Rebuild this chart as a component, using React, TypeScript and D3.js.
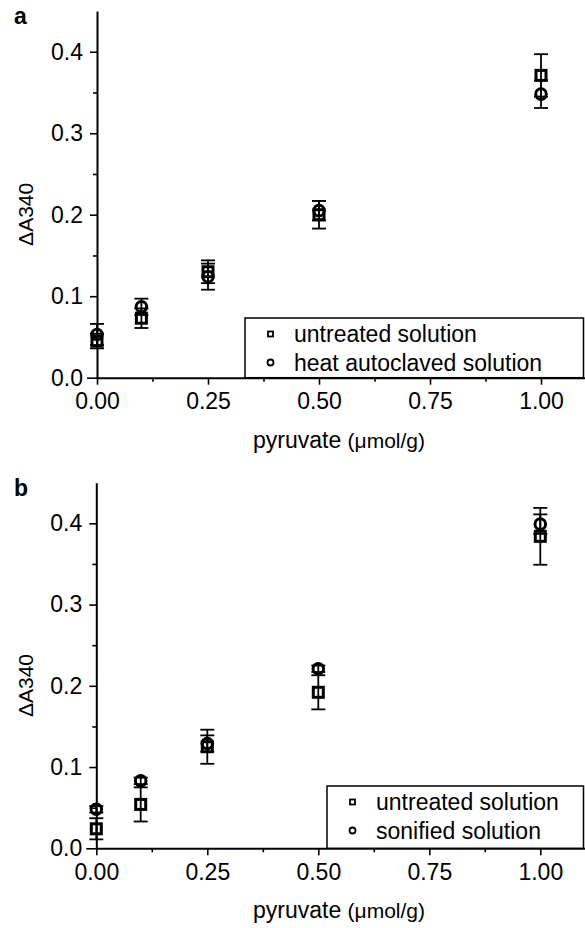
import React, { useEffect, useRef } from 'react';
import * as d3 from 'd3';

// x values (pyruvate, µmol/g)
const pyruvate = [0, 0.1, 0.25, 0.5, 1.0];

// panel a
const aUntreated = [0.045, 0.073, 0.130, 0.200, 0.371];
const aUntreatedErr = [0.009, 0.012, 0.014, 0.017, 0.026];
const aHeat = [0.053, 0.087, 0.124, 0.205, 0.348];
const aHeatErr = [0.013, 0.010, 0.016, 0.012, 0.017];

// panel b
const bUntreated = [0.024, 0.054, 0.125, 0.192, 0.384];
const bUntreatedErr = [0.013, 0.021, 0.021, 0.021, 0.035];
const bSonified = [0.048, 0.083, 0.129, 0.221, 0.399];
const bSonifiedErr = [0.004, 0.004, 0.010, 0.004, 0.012];

const xTicks = [0, 0.25, 0.5, 0.75, 1.0];
const xMinor = [0.125, 0.375, 0.625, 0.875];
const yTicks = [0, 0.1, 0.2, 0.3, 0.4];
const yMinor = [0.05, 0.15, 0.25, 0.35];

const panels = [
  { tag: 'a', top: 11, bottom: 377.7, left: 97, legendTop: 318, legendLeft: 245,
    series: [
      { name: 'untreated solution', shape: 'square', values: aUntreated, err: aUntreatedErr },
      { name: 'heat autoclaved solution', shape: 'circle', values: aHeat, err: aHeatErr },
    ] },
  { tag: 'b', top: 482.7, bottom: 848.3, left: 96.3, legendTop: 786, legendLeft: 327,
    series: [
      { name: 'untreated solution', shape: 'square', values: bUntreated, err: bUntreatedErr },
      { name: 'sonified solution', shape: 'circle', values: bSonified, err: bSonifiedErr },
    ] },
];

const FONT = '"Liberation Sans", Arial, Helvetica, sans-serif';

function App() {
  const ref = useRef<SVGSVGElement>(null);

  useEffect(() => {
    const svg = d3.select(ref.current);
    svg.selectAll('*').remove();

    panels.forEach((p) => {
      const g = svg.append('g');
      // 1.0 unit ~ 444px, axis runs to 1.1
      const x = d3.scaleLinear().domain([0, 1.1]).range([p.left, p.left + 444 * 1.1]);
      const y = d3.scaleLinear().domain([0, 0.45]).range([p.bottom, p.top]);

      // panel tag
      g.append('text').attr('x', 14).attr('y', p.top + 13)
        .attr('font-family', FONT).attr('font-size', 23).attr('font-weight', 'bold')
        .text(p.tag);

      // Y axis
      const yAxis = g.append('g')
        .attr('transform', `translate(${p.left},0)`)
        .call(d3.axisLeft(y).tickValues(yTicks).tickFormat(d3.format('.1f'))
          .tickSize(7).tickSizeOuter(0).tickPadding(7));
      yAxis.selectAll('.tick')
        .filter((d: any) => d === 0)
        .select('line').attr('x2', -10);
      g.append('g').attr('transform', `translate(${p.left},0)`)
        .call(d3.axisLeft(y).tickValues(yMinor).tickFormat(() => '').tickSize(4).tickSizeOuter(0))
        .select('.domain').remove();

      // X axis
      g.append('g')
        .attr('transform', `translate(0,${p.bottom})`)
        .call(d3.axisBottom(x).tickValues(xTicks).tickFormat(d3.format('.2f'))
          .tickSize(7).tickSizeOuter(0).tickPadding(8));
      g.append('g').attr('transform', `translate(0,${p.bottom})`)
        .call(d3.axisBottom(x).tickValues(xMinor).tickFormat(() => '').tickSize(4).tickSizeOuter(0))
        .select('.domain').remove();

      g.selectAll('.domain').attr('stroke-width', 2);
      g.selectAll('.tick line').attr('stroke-width', 1.6);
      g.selectAll('.tick text').attr('font-family', FONT).attr('font-size', 23).attr('fill', '#000');

      // axis titles
      const midY = (p.top + p.bottom) / 2 + 20;
      g.append('text')
        .attr('transform', `translate(33,${midY}) rotate(-90)`)
        .attr('text-anchor', 'middle')
        .attr('font-family', FONT).attr('font-size', 21)
        .text('\u0394A340');

      const xt = g.append('text')
        .attr('x', 339).attr('y', p.bottom + 70)
        .attr('text-anchor', 'middle')
        .attr('font-family', FONT).attr('font-size', 23);
      xt.append('tspan').text('pyruvate ');
      xt.append('tspan').attr('font-size', 21).text('(\u03bcmol/g)');

      // legend box (bottom sits on x axis)
      g.append('rect')
        .attr('x', p.legendLeft).attr('y', p.legendTop)
        .attr('width', 583.5 - p.legendLeft).attr('height', p.bottom - p.legendTop)
        .attr('fill', '#fff').attr('stroke', '#000').attr('stroke-width', 1.5);

      p.series.forEach((s, si) => {
        const rowY = p.legendTop + 16 + si * 28.5;
        const sx = p.legendLeft + 25.5;
        if (s.shape === 'square') {
          g.append('rect').attr('x', sx - 2.5).attr('y', rowY - 2.5).attr('width', 5).attr('height', 5)
            .attr('fill', 'none').attr('stroke', '#000').attr('stroke-width', 1.8);
        } else {
          g.append('circle').attr('cx', sx).attr('cy', rowY).attr('r', 3)
            .attr('fill', 'none').attr('stroke', '#000').attr('stroke-width', 1.8);
        }
        g.append('text').attr('x', p.legendLeft + 49).attr('y', rowY + 8)
          .attr('font-family', FONT).attr('font-size', 23)
          .text(s.name);
      });

      // error bars + markers
      p.series.forEach((s) => {
        const eg = g.append('g').attr('stroke', '#000').attr('fill', 'none');
        pyruvate.forEach((xv, i) => {
          const cx = x(xv);
          const y1 = y(s.values[i] + s.err[i]);
          const y0 = y(s.values[i] - s.err[i]);
          eg.append('line').attr('x1', cx).attr('x2', cx).attr('y1', y1).attr('y2', y0).attr('stroke-width', 1.8);
          [y0, y1].forEach((yy) => {
            eg.append('line').attr('x1', cx - 7).attr('x2', cx + 7).attr('y1', yy).attr('y2', yy).attr('stroke-width', 1.8);
          });
        });
      });

      p.series.forEach((s) => {
        const mg = g.append('g').attr('stroke', '#000').attr('fill', 'none').attr('stroke-width', 3);
        pyruvate.forEach((xv, i) => {
          const cx = x(xv);
          const cy = y(s.values[i]);
          if (s.shape === 'square') {
            mg.append('rect').attr('x', cx - 5).attr('y', cy - 5).attr('width', 10).attr('height', 10);
          } else {
            mg.append('circle').attr('cx', cx).attr('cy', cy).attr('r', 5.3);
          }
        });
      });
    });
  }, []);

  return (
    <svg ref={ref} width={585} height={928}
      style={{ position: 'absolute', left: 0, top: 0, background: '#fff' }} />
  );
}

export default App;
